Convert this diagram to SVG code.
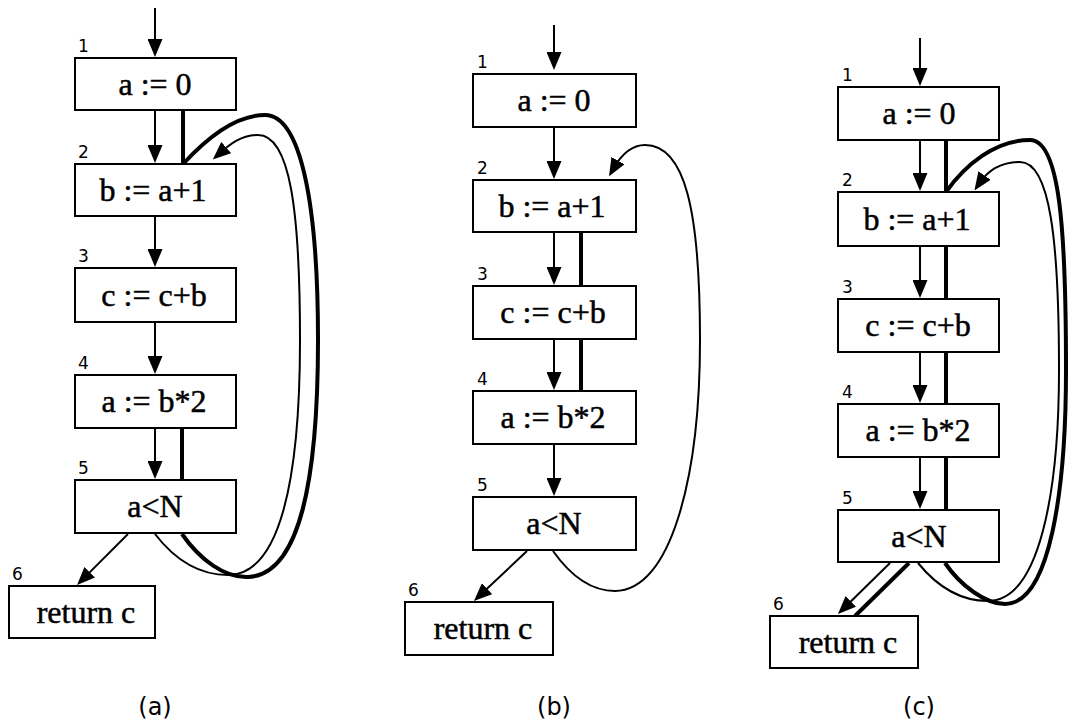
<svg xmlns="http://www.w3.org/2000/svg" width="1068" height="725" viewBox="0 0 1068 725">
<style>
.box{fill:#fff;stroke:#000;stroke-width:2}
.t{font-family:"Liberation Serif","Times New Roman",serif;font-size:32px;text-anchor:middle;fill:#000;stroke:#000;stroke-width:0.5}
.n{font-family:"DejaVu Sans",sans-serif;font-size:17px;fill:#000}
.cap{font-family:"DejaVu Sans",sans-serif;font-size:24px;text-anchor:middle;fill:#000}
.thin{fill:none;stroke:#000;stroke-width:2}
.thick{fill:none;stroke:#000;stroke-width:4}
.arr{marker-end:url(#ah)}
</style>
<defs>
<marker id="ah" markerUnits="userSpaceOnUse" viewBox="0 0 18 15" markerWidth="18" markerHeight="15" refX="9" refY="7.5" orient="auto">
<path d="M0,0 L18,7.5 L0,15 z" fill="#000"/>
</marker>
</defs>
<g id="connectors">
<!-- panel a -->
<path class="thin arr" d="M155,8 V48"/>
<path class="thin arr" d="M155,111 V154"/>
<path class="thin arr" d="M155,217 V258"/>
<path class="thin arr" d="M155,323 V365"/>
<path class="thin arr" d="M155,429 V470"/>
<path class="thin arr" d="M128,534 L83.4,578.6"/>
<path class="thick" d="M183,111 V164"/>
<path class="thick" d="M182,429 V480"/>
<path class="thick" d="M182,534 C200,560 225,578 248,577 C300,575 318,480 318,340 C318,200 300,115 265,115 C235,115 205,140 183,164"/>
<path class="thin arr" d="M155,534 C175,560 200,575 228,575 C280,575 300,480 300,340 C300,210 290,135 258,135 C240,135 228,146 219.5,153.5"/>
<!-- panel b -->
<path class="thin arr" d="M554,25 V61"/>
<path class="thin arr" d="M554,128 V170"/>
<path class="thin arr" d="M554,233 V276"/>
<path class="thin arr" d="M554,340 V381"/>
<path class="thin arr" d="M554,445 V487"/>
<path class="thin arr" d="M527,551 L480.5,594.8"/>
<path class="thick" d="M581,233 V286"/>
<path class="thick" d="M581,340 V391"/>
<path class="thin arr" d="M553,551 C570,575 590,591 615,591 C670,591 700,480 700,340 C700,210 685,145 645,145 C630,145 620,157 613.5,168.5"/>
<!-- panel c -->
<path class="thin arr" d="M920,38 V77"/>
<path class="thin arr" d="M920,141 V182"/>
<path class="thin arr" d="M920,247 V289"/>
<path class="thin arr" d="M920,353 V394"/>
<path class="thin arr" d="M920,458 V500"/>
<path class="thin arr" d="M890,563 L844.4,607.7"/>
<path class="thick" d="M946,141 V192"/>
<path class="thick" d="M946,247 V299"/>
<path class="thick" d="M946,353 V404"/>
<path class="thick" d="M946,458 V510"/>
<path class="thick" d="M909,563 L855,616"/>
<path class="thick" d="M945,563 C960,585 985,604 1005,604 C1050,604 1066,490 1066,370 C1066,230 1060,140 1030,140 C995,140 965,165 946,192"/>
<path class="thin arr" d="M918,563 C940,590 965,601 988,601 C1040,601 1059,490 1059,370 C1059,240 1050,162 1020,162 C1000,162 987,172 979.5,183"/>
</g>
<!-- panel a nodes -->
<g id="a1"><rect class="box" x="75" y="58" width="161" height="52"/><text class="n" x="78" y="52">1</text><text class="t" x="155" y="95">a := 0</text></g>
<g id="a2"><rect class="box" x="75" y="164" width="161" height="52"/><text class="n" x="78" y="158">2</text><text class="t" x="153" y="201">b := a+1</text></g>
<g id="a3"><rect class="box" x="75" y="268" width="161" height="54"/><text class="n" x="78" y="262">3</text><text class="t" x="154" y="306">c := c+b</text></g>
<g id="a4"><rect class="box" x="75" y="375" width="161" height="53"/><text class="n" x="78" y="369">4</text><text class="t" x="154" y="412">a := b*2</text></g>
<g id="a5"><rect class="box" x="75" y="480" width="161" height="53"/><text class="n" x="78" y="474">5</text><text class="t" x="155" y="517">a&lt;N</text></g>
<g id="a6"><rect class="box" x="9" y="586" width="146" height="52"/><text class="n" x="12" y="580">6</text><text class="t" x="86" y="623">return c</text></g>
<!-- panel b nodes -->
<g id="b1"><rect class="box" x="473" y="74" width="163" height="53"/><text class="n" x="477" y="68">1</text><text class="t" x="554" y="111">a := 0</text></g>
<g id="b2"><rect class="box" x="473" y="180" width="163" height="52"/><text class="n" x="477" y="174">2</text><text class="t" x="552" y="217">b := a+1</text></g>
<g id="b3"><rect class="box" x="473" y="286" width="163" height="53"/><text class="n" x="477" y="280">3</text><text class="t" x="553" y="323">c := c+b</text></g>
<g id="b4"><rect class="box" x="473" y="391" width="163" height="53"/><text class="n" x="477" y="385">4</text><text class="t" x="553" y="428">a := b*2</text></g>
<g id="b5"><rect class="box" x="473" y="497" width="163" height="53"/><text class="n" x="477" y="491">5</text><text class="t" x="554" y="534">a&lt;N</text></g>
<g id="b6"><rect class="box" x="405" y="602" width="148" height="53"/><text class="n" x="408" y="596">6</text><text class="t" x="483" y="639">return c</text></g>
<!-- panel c nodes -->
<g id="c1"><rect class="box" x="838" y="87" width="161" height="53"/><text class="n" x="842" y="81">1</text><text class="t" x="919" y="124">a := 0</text></g>
<g id="c2"><rect class="box" x="838" y="192" width="161" height="54"/><text class="n" x="842" y="186">2</text><text class="t" x="917" y="230">b := a+1</text></g>
<g id="c3"><rect class="box" x="838" y="299" width="161" height="53"/><text class="n" x="842" y="293">3</text><text class="t" x="918" y="336">c := c+b</text></g>
<g id="c4"><rect class="box" x="838" y="404" width="161" height="53"/><text class="n" x="842" y="398">4</text><text class="t" x="918" y="441">a := b*2</text></g>
<g id="c5"><rect class="box" x="838" y="510" width="161" height="52"/><text class="n" x="842" y="504">5</text><text class="t" x="919" y="547">a&lt;N</text></g>
<g id="c6"><rect class="box" x="770" y="616" width="148" height="52"/><text class="n" x="773" y="610">6</text><text class="t" x="848" y="653">return c</text></g>
<g id="captions">
<text class="cap" x="155" y="715">(a)</text>
<text class="cap" x="554" y="715">(b)</text>
<text class="cap" x="919" y="715">(c)</text>
</g>
</svg>
